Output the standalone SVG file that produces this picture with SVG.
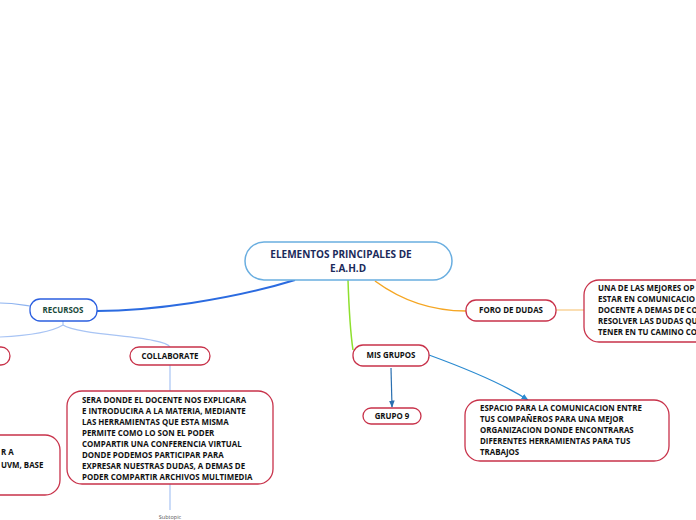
<svg xmlns="http://www.w3.org/2000/svg" width="696" height="520" viewBox="0 0 696 520">
<defs>
<style>
.t{font-family:"Open Sans","Noto Sans",sans-serif;font-weight:bold;font-size:7.9px;fill:#111}
.c{text-anchor:middle}
.n{fill:#fff;stroke:#c8324a;stroke-width:1.3}
.e{fill:none}
</style>
<marker id="ah" viewBox="0 0 10 10" refX="9" refY="5" markerWidth="6" markerHeight="6" orient="auto"><path d="M0,1 L10,5 L0,9 z" fill="#2a6fb0"/></marker>
<marker id="ah2" viewBox="0 0 10 10" refX="9" refY="5" markerWidth="6" markerHeight="6" orient="auto"><path d="M0,1 L10,5 L0,9 z" fill="#2a8ad0"/></marker>
</defs>
<rect width="696" height="520" fill="#fff"/>
<g id="connectors">
<path class="e" d="M295,280 C230,300 150,311 97,311" stroke="#2b6be0" stroke-width="2"/>
<path class="e" d="M0,303 C15,303 22,305 30,306" stroke="#8fb4f0" stroke-width="1.2"/>
<path class="e" d="M63,321 L63,325 C50,333 20,336 0,337" stroke="#a8c4f4" stroke-width="1.2"/>
<path class="e" d="M63,325 C80,336 165,336 170,347" stroke="#a8c4f4" stroke-width="1.2"/>
<path class="e" d="M170,365 L170,391" stroke="#a8c4f4" stroke-width="1.2"/>
<path class="e" d="M170,484 L170,510" stroke="#a8c4f4" stroke-width="1.2"/>
<path class="e" d="M375,281 C405,303 435,311 466,311" stroke="#f5a623" stroke-width="1.5"/>
<path class="e" d="M556,310 L584,310" stroke="#f7c980" stroke-width="1.2"/>
<path class="e" d="M348,280 C349,310 350,330 353,350" stroke="#8ee02e" stroke-width="1.5"/>
<path class="e" d="M391,368 L392,407" stroke="#2a6fb0" stroke-width="1.2" marker-end="url(#ah)"/>
<path class="e" d="M429,355 C470,370 505,385 528,400" stroke="#2a8ad0" stroke-width="1.2" marker-end="url(#ah2)"/>
</g>
<g id="central">
<rect x="245" y="242" width="207" height="38" rx="19" fill="#fff" stroke="#6aaee0" stroke-width="1.5"/>
<text class="t" x="341" y="257.5" text-anchor="middle" style="font-size:10px;fill:#1b2a5a">ELEMENTOS PRINCIPALES DE</text>
<text class="t" x="348" y="271.5" text-anchor="middle" style="font-size:10px;fill:#1b2a5a">E.A.H.D</text>
</g>
<g id="recursos">
<rect x="30" y="299" width="67" height="22" rx="10" fill="#fff" stroke="#2b5fe0" stroke-width="1.3"/>
<text class="t c" x="63" y="313" style="fill:#1a4a3a">RECURSOS</text>
</g>
<g id="left-node">
<rect x="-40" y="347" width="50" height="18" rx="9" class="n"/>
</g>
<g id="collaborate">
<rect x="130" y="347" width="80" height="18" rx="9" class="n"/>
<text class="t c" x="170" y="359">COLLABORATE</text>
</g>
<g id="collab-desc">
<rect x="67" y="391" width="206" height="93" rx="15" class="n"/>
<text class="t" x="82" y="403">SERA DONDE  EL DOCENTE NOS EXPLICARA</text>
<text class="t" x="82" y="414">E INTRODUCIRA A LA MATERIA, MEDIANTE</text>
<text class="t" x="82" y="425">LAS HERRAMIENTAS QUE ESTA MISMA</text>
<text class="t" x="82" y="436">PERMITE COMO LO SON EL PODER</text>
<text class="t" x="82" y="447">COMPARTIR  UNA CONFERENCIA VIRTUAL</text>
<text class="t" x="82" y="458">DONDE PODEMOS PARTICIPAR PARA</text>
<text class="t" x="82" y="469">EXPRESAR NUESTRAS DUDAS, A DEMAS DE</text>
<text class="t" x="82" y="480">PODER COMPARTIR ARCHIVOS MULTIMEDIA</text>
</g>
<g id="left-desc">
<rect x="-60" y="435" width="120" height="60" rx="15" class="n"/>
<text class="t" x="1" y="455">R A</text>
<text class="t" x="1" y="468">UVM, BASE</text>
</g>
<g id="subtopic">
<text x="170" y="519" text-anchor="middle" style="font-family:'Open Sans',sans-serif;font-size:5.5px;fill:#555">Subtopic</text>
</g>
<g id="foro">
<rect x="466" y="300" width="90" height="21" rx="10" class="n"/>
<text class="t c" x="511" y="313">FORO DE DUDAS</text>
</g>
<g id="foro-desc">
<rect x="584" y="280" width="140" height="62" rx="15" class="n"/>
<text class="t" x="598" y="291">UNA DE LAS MEJORES OP</text>
<text class="t" x="598" y="302">ESTAR EN COMUNICACIO</text>
<text class="t" x="598" y="313">DOCENTE A DEMAS DE CO</text>
<text class="t" x="598" y="324">RESOLVER LAS DUDAS QU</text>
<text class="t" x="598" y="335">TENER EN TU CAMINO CO</text>
</g>
<g id="misgrupos">
<rect x="353" y="345" width="76" height="21" rx="10" class="n"/>
<text class="t c" x="391" y="358">MIS GRUPOS</text>
</g>
<g id="grupo9">
<rect x="363" y="408" width="58" height="16" rx="8" class="n"/>
<text class="t c" x="392" y="419">GRUPO 9</text>
</g>
<g id="grupos-desc">
<rect x="465" y="400" width="204" height="61" rx="15" class="n"/>
<text class="t" x="480" y="411">ESPACIO PARA LA COMUNICACION ENTRE</text>
<text class="t" x="480" y="422">TUS COMPAÑEROS PARA UNA MEJOR</text>
<text class="t" x="480" y="433">ORGANIZACION DONDE ENCONTRARAS</text>
<text class="t" x="480" y="444">DIFERENTES HERRAMIENTAS PARA TUS</text>
<text class="t" x="480" y="455">TRABAJOS</text>
</g>
</svg>
